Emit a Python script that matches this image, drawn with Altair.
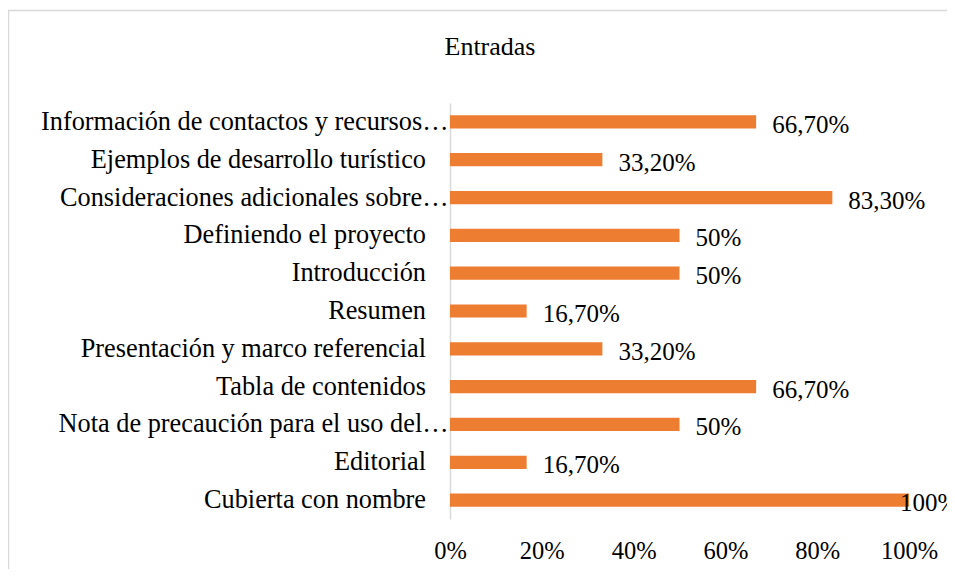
import altair as alt
import pandas as pd

chart_title = "Entradas"
categories = [
    "Información de contactos y recursos…",
    "Ejemplos de desarrollo turístico",
    "Consideraciones adicionales sobre…",
    "Definiendo el proyecto",
    "Introducción",
    "Resumen",
    "Presentación y marco referencial",
    "Tabla de contenidos",
    "Nota de precaución para el uso del…",
    "Editorial",
    "Cubierta con nombre",
]
values = [66.7, 33.2, 83.3, 50, 50, 16.7, 33.2, 66.7, 50, 16.7, 100]
value_labels = ["66,70%", "33,20%", "83,30%", "50%", "50%", "16,70%",
                "33,20%", "66,70%", "50%", "16,70%", "100%"]
tick_values = [0, 20, 40, 60, 80, 100]

df = pd.DataFrame({"cat": categories, "val": values, "lab": value_labels})

FONT = "'Liberation Serif', 'DejaVu Serif', serif"
FRAME = "#d9d9d9"

y_enc = alt.Y("cat:N", sort=None, title=None,
              scale=alt.Scale(paddingInner=0.65, paddingOuter=0.325),
              axis=alt.Axis(domain=True, domainColor=FRAME, domainWidth=1.5,
                            ticks=False, labelFont=FONT, labelFontSize=26.3,
                            labelColor="#000000", labelLimit=600,
                            labelPadding={"condition": {"test": "indexof(datum.value, '…') >= 0",
                                                        "value": 2},
                                          "value": 24.5}))
x_enc = alt.X("val:Q", title=None,
              scale=alt.Scale(domain=[0, 100], nice=False),
              axis=alt.Axis(values=tick_values, labelExpr="datum.value + '%'",
                            domain=False, ticks=False, grid=False, labelFlush=False,
                            labelFont=FONT, labelFontSize=24.5, labelColor="#000000",
                            labelPadding=20))

bars = alt.Chart(df).mark_bar(color="#ED7D31").encode(x=x_enc, y=y_enc)
texts = alt.Chart(df).transform_filter("datum.val < 100").mark_text(
    align="left", baseline="middle", dx=16, dy=3,
    font=FONT, fontSize=25, color="#000000").encode(
    x="val:Q", y=alt.Y("cat:N", sort=None), text="lab:N")
texts_full = alt.Chart(df).transform_filter("datum.val >= 100").mark_text(
    align="left", baseline="middle", dx=-9, dy=3,
    font=FONT, fontSize=25, color="#000000").encode(
    x="val:Q", y=alt.Y("cat:N", sort=None), text="lab:N")

single = alt.Data(values=[{"t": chart_title}])
frame_top = alt.Chart(single).mark_rule(color=FRAME, strokeWidth=1.5).encode(
    x=alt.value(-442), x2=alt.value(500), y=alt.value(-92.5))
frame_left = alt.Chart(single).mark_rule(color=FRAME, strokeWidth=1.5).encode(
    x=alt.value(-441.5), y=alt.value(-92.5), y2=alt.value(470))
title_text = alt.Chart(single).mark_text(
    align="center", baseline="middle", font=FONT, fontSize=26, color="#000000").encode(
    x=alt.value(40), y=alt.value(-56), text="t:N")

chart = alt.layer(frame_top, frame_left, title_text, bars, texts, texts_full).properties(
    width=459, height=416,
    autosize=alt.AutoSizeParams(type="none"),
    padding={"left": 442, "top": 95, "right": 38, "bottom": 50},
).configure_view(stroke=None).configure_axis(grid=False)

chart.save("out.html", embed_options={"renderer": "svg", "actions": False})
